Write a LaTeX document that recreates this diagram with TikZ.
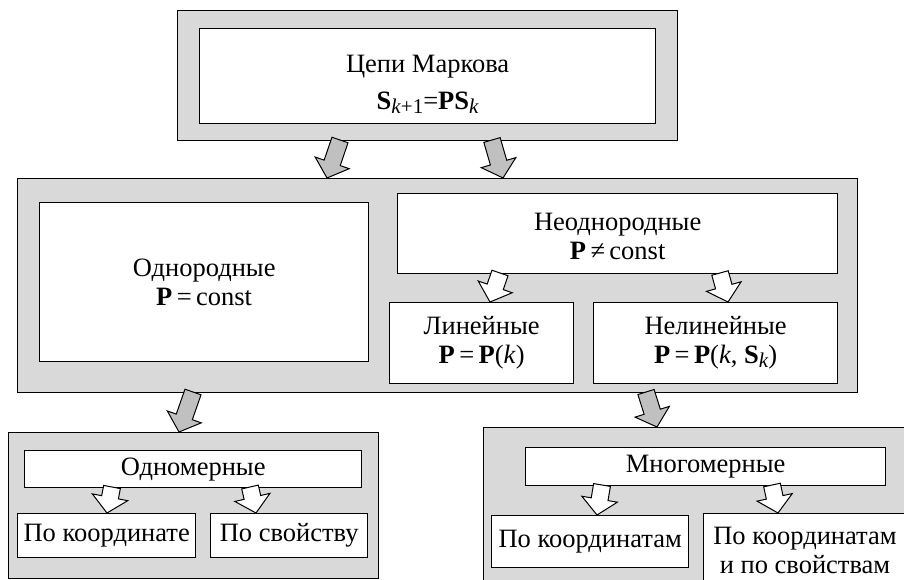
\documentclass[tikz,border=0pt]{standalone}
\usepackage{fontspec}
\setmainfont{Liberation Serif}
\usetikzlibrary{calc}
\definecolor{boxgray}{HTML}{D9D9D9}
\definecolor{arrgray}{HTML}{C0C0C0}
\newcommand\sbs[1]{\raisebox{-0.3ex}{\fontsize{21}{21}\selectfont #1}}
\tikzset{
  outerbox/.style={draw, line width=1.3pt, fill=boxgray, anchor=north west, inner sep=0pt},
  innerbox/.style={draw, line width=1.3pt, fill=white, anchor=north west, inner sep=0pt,
    align=center, font=\fontsize{26.5}{35}\selectfont},
  txt/.style={inner sep=0pt, align=center, font=\fontsize{26.5}{37}\selectfont},
}
\newcommand\fatarr[3]{%
  \coordinate (#1#2h) at ($(#2)!16pt!(#1)$);
  \filldraw[fill=#3, line width=1pt, line join=miter]
    ($(#1)!8.5pt!90:(#2)$) -- ($(#1#2h)!8.5pt!90:(#2)$) -- ($(#1#2h)!18pt!90:(#2)$) -- (#2)
    -- ($(#1#2h)!18pt!-90:(#2)$) -- ($(#1#2h)!8.5pt!-90:(#2)$) -- ($(#1)!8.5pt!-90:(#2)$) -- cycle;}
\begin{document}
\begin{tikzpicture}[x=1pt,y=-1pt]
\useasboundingbox (0,0) rectangle (904,580);
\clip (0,0) rectangle (904,580);
\fill[white] (0,0) rectangle (904,580);
% top
\node[outerbox, minimum width=500pt, minimum height=130pt] (topO) at (177,10) {};
\node[innerbox, minimum width=456pt, minimum height=95pt] (markov) at (199,28) {};
\node[txt] (markovt) at ($(markov.center)+(0,8)$)
  {Цепи Маркова\\ \textbf{S}\sbs{\textit{k}+1}=\textbf{PS}\sbs{\textit{k}}};
% middle
\node[outerbox, minimum width=840pt, minimum height=214pt] (midO) at (17,178) {};
\node[innerbox, minimum width=329pt, minimum height=159pt] (odn) at (39,202)
  {Однородные\\[-6pt] \textbf{P}\,=\,const};
\node[innerbox, minimum width=440pt, minimum height=80pt] (neodn) at (397,193) {};
\node[txt, font=\fontsize{26.5}{29}\selectfont] (neodnt) at ($(neodn.center)+(0,3)$)
  {Неоднородные\\ \textbf{P}\,≠\,const};
\node[innerbox, minimum width=184pt, minimum height=81pt] (lin) at (389,302)
  {Линейные\\[-6pt] \textbf{P}\,=\,\textbf{P}(\textit{k})};
\node[innerbox, minimum width=244pt, minimum height=81pt] (nonlin) at (593,302)
  {Нелинейные\\[-6pt] \textbf{P}\,=\,\textbf{P}(\textit{k}, \textbf{S}\sbs{\textit{k}})};
% lower left
\node[outerbox, minimum width=370pt, minimum height=146pt] (llO) at (8,432) {};
\node[innerbox, minimum width=337pt, minimum height=37pt] (odnom) at (24,450) {Одномерные};
\node[innerbox, minimum width=178pt, minimum height=44pt] (pokoord) at (17,513) {По координате};
\node[innerbox, minimum width=157pt, minimum height=44pt] (posv) at (210,513) {По свойству};
% lower right
\node[outerbox, minimum width=440pt, minimum height=170pt] (lrO) at (483,427) {};
\node[innerbox, minimum width=360pt, minimum height=38pt] (mnog) at (525,447) {Многомерные};
\node[innerbox, minimum width=197pt, minimum height=52pt] (pokoords) at (491,515) {По координатам};
\node[innerbox, minimum width=206pt, minimum height=80pt] (pokoordsv) at (703,513) {};
\node[txt, font=\fontsize{26.5}{29}\selectfont] (pokoordsvt) at (805,550)
  {По координатам\\и по свойствам};
% arrow end points
\coordinate (a1) at (340,140); \coordinate (b1) at (327,178);
\coordinate (a2) at (492,140); \coordinate (b2) at (503,178);
\coordinate (a3) at (500,273); \coordinate (b3) at (490,302);
\coordinate (a4) at (720,273); \coordinate (b4) at (728,302);
\coordinate (a5) at (193,392); \coordinate (b5) at (179,432);
\coordinate (a6) at (646,392); \coordinate (b6) at (657,427);
\coordinate (a7) at (112,487); \coordinate (b7) at (107,513);
\coordinate (a8) at (250,487); \coordinate (b8) at (256,513);
\coordinate (a9) at (602,485); \coordinate (b9) at (597,515);
\coordinate (a10) at (772,485); \coordinate (b10) at (778,513);
\fatarr{a1}{b1}{arrgray}
\fatarr{a2}{b2}{arrgray}
\fatarr{a5}{b5}{arrgray}
\fatarr{a6}{b6}{arrgray}
\fatarr{a3}{b3}{white}
\fatarr{a4}{b4}{white}
\fatarr{a7}{b7}{white}
\fatarr{a8}{b8}{white}
\fatarr{a9}{b9}{white}
\fatarr{a10}{b10}{white}
\end{tikzpicture}
\end{document}
